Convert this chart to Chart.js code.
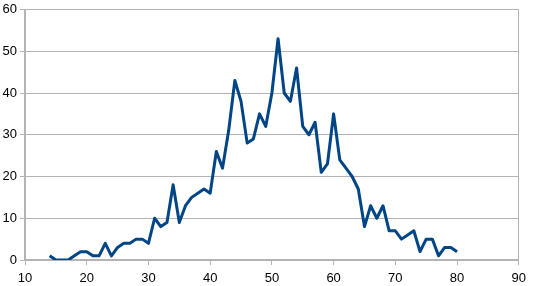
<!DOCTYPE html>
<html>
<head>
<meta charset="utf-8">
<script src="https://cdn.jsdelivr.net/npm/chart.js@4"></script>
<style>
  html, body { margin: 0; padding: 0; background: #fff; }
  #graficaContainer { width: 533px; height: 286px; }
</style>
</head>
<body>
<div id="graficaContainer"><canvas id="grafica" width="533" height="286"></canvas></div>
<script>
// Datos
const valoresX = [14, 15, 16, 17, 18, 19, 20, 21, 22, 23, 24, 25, 26, 27, 28, 29, 30,
  31, 32, 33, 34, 35, 36, 37, 38, 39, 40, 41, 42, 43, 44, 45, 46, 47, 48, 49, 50,
  51, 52, 53, 54, 55, 56, 57, 58, 59, 60, 61, 62, 63, 64, 65, 66, 67, 68, 69, 70,
  71, 72, 73, 74, 75, 76, 77, 78, 79, 80];
const valoresY = [1, 0, 0, 0, 1, 2, 2, 1, 1, 4, 1, 3, 4, 4, 5, 5, 4,
  10, 8, 9, 18, 9, 13, 15, 16, 17, 16, 26, 22, 31, 43, 38, 28, 29, 35, 32, 40,
  53, 40, 38, 46, 32, 30, 33, 21, 23, 35, 24, 22, 20, 17, 8, 13, 10, 13, 7, 7,
  5, 6, 7, 2, 5, 5, 1, 3, 3, 2];
const ejeX = { min: 10, max: 90, paso: 10 };
const ejeY = { min: 0, max: 60, paso: 10 };

const gris = '#b3b3b3';

function generarGrafica() {
    const ctx = document.getElementById('grafica').getContext('2d');
    const puntos = valoresX.map((x, i) => ({ x: x, y: valoresY[i] }));

    new Chart(ctx, {
        type: 'scatter',
        data: {
            datasets: [{
                data: puntos,
                showLine: true,
                borderColor: '#004586',
                backgroundColor: '#004586',
                borderWidth: 3,
                pointRadius: 0,
                tension: 0,
                borderJoinStyle: 'round',
            }],
        },
        options: {
            responsive: false,
            animation: false,
            layout: { padding: { top: 6, right: 13, left: 0, bottom: 0 } },
            plugins: {
                legend: { display: false },
                tooltip: { enabled: false },
            },
            scales: {
                x: {
                    type: 'linear',
                    min: ejeX.min,
                    max: ejeX.max,
                    afterFit: (s) => { s.height = 26; },
                    ticks: {
                        stepSize: ejeX.paso,
                        color: '#000',
                        padding: 7,
                        font: { family: 'Liberation Sans', size: 13, lineHeight: 1 },
                    },
                    grid: {
                        color: (c) => (c.tick && c.tick.value === ejeX.max ? gris : 'rgba(0,0,0,0)'),
                        tickColor: gris,
                        tickLength: 5,
                        lineWidth: 1,
                    },
                    border: { display: true, color: gris, width: 1.5 },
                },
                y: {
                    min: ejeY.min,
                    max: ejeY.max,
                    afterFit: (s) => { s.width = 25; },
                    ticks: {
                        stepSize: ejeY.paso,
                        color: '#000',
                        padding: 3,
                        font: { family: 'Liberation Sans', size: 13, lineHeight: 1 },
                    },
                    grid: {
                        color: gris,
                        tickColor: gris,
                        tickLength: 5,
                        lineWidth: 1,
                    },
                    border: { display: true, color: gris, width: 2 },
                },
            },
        },
    });
}

document.addEventListener('DOMContentLoaded', generarGrafica);
</script>
</body>
</html>
